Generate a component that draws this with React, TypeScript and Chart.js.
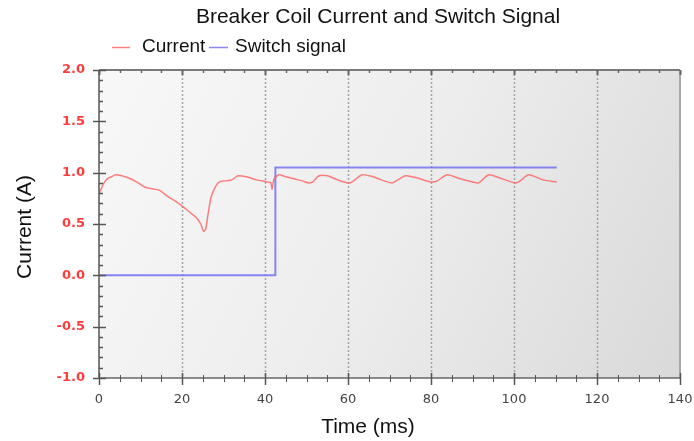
import React, { useEffect, useRef } from "react";
import { Chart, registerables } from "chart.js";

Chart.register(...registerables);

const chartTitle = "Breaker Coil Current and Switch Signal";
const xAxisTitle = "Time (ms)";
const yAxisTitle = "Current (A)";
const seriesNames = ["Current", "Switch signal"];

const currentTime = [
  0, 0.5, 1.2, 2, 3, 4, 5.5, 7, 9, 11, 13, 14.5, 16.5, 18.5, 20.5, 22, 23.5, 24.5, 25.2, 25.7,
  26.3, 27, 28, 29, 30.5, 32, 33.5, 35.5, 38, 40.5, 41.4, 41.7, 42.2, 43.4, 45, 47, 49, 50.5,
  51.5, 53, 55, 57.5, 60, 61, 63.4, 66, 68, 70.6, 72, 73.9, 76.5, 80, 81.5, 83.9, 87, 90, 91.5,
  93.9, 96.5, 100.3, 101.5, 103.5, 107, 110.3,
];
const currentValues = [
  0.8, 0.84, 0.9, 0.94, 0.96, 0.98, 0.97, 0.95, 0.91, 0.86, 0.84, 0.83, 0.77, 0.72, 0.66, 0.61,
  0.56, 0.5, 0.43, 0.45, 0.6, 0.76, 0.86, 0.91, 0.92, 0.93, 0.97, 0.96, 0.93, 0.91, 0.9, 0.84,
  0.94, 0.98, 0.96, 0.94, 0.92, 0.9, 0.91, 0.97, 0.97, 0.93, 0.9, 0.91, 0.98, 0.96, 0.93, 0.9,
  0.93, 0.97, 0.95, 0.91, 0.92, 0.98, 0.94, 0.91, 0.9, 0.98, 0.95, 0.9, 0.92, 0.98, 0.93, 0.91,
];
const switchTime = [0, 42.5, 42.5, 110.3];
const switchValues = [0, 0, 1.05, 1.05];

const xMin = 0;
const xMax = 140;
const xStep = 20;
const xMinorStep = 5;
const yMin = -1;
const yMax = 2;
const yStep = 0.5;
const yMinorStep = 0.1;

const CURRENT_COLOR = "rgba(255,95,95,0.8)";
const SWITCH_COLOR = "rgba(115,115,240,0.85)";
const TEXT_FONT = "'Liberation Sans', Arial, sans-serif";

const decorPlugin = {
  id: "decor",
  beforeDatasetsDraw(chart: any) {
    const { ctx, chartArea: a, scales } = chart;
    const xs = scales.x;
    ctx.save();
    const g = ctx.createLinearGradient(a.left, a.top, a.right, a.bottom);
    g.addColorStop(0, "#f8f8f8");
    g.addColorStop(0.5, "#ededed");
    g.addColorStop(1, "#d9d9d9");
    ctx.fillStyle = g;
    ctx.fillRect(a.left, a.top, a.right - a.left, a.bottom - a.top);
    ctx.strokeStyle = "rgba(150,150,150,0.85)";
    ctx.lineWidth = 1.5;
    ctx.setLineDash([2, 2]);
    for (let v = xMin + xStep; v < xMax; v += xStep) {
      const px = Math.round(xs.getPixelForValue(v)) + 0.5;
      ctx.beginPath();
      ctx.moveTo(px, a.top);
      ctx.lineTo(px, a.bottom);
      ctx.stroke();
    }
    ctx.restore();
  },
  afterDraw(chart: any) {
    const { ctx, chartArea: a, scales } = chart;
    const xs = scales.x;
    const ys = scales.y;
    ctx.save();
    ctx.setLineDash([]);
    ctx.strokeStyle = "#a8a8a8";
    ctx.lineWidth = 2;
    ctx.beginPath();
    ctx.moveTo(a.right, a.top);
    ctx.lineTo(a.right, a.bottom);
    ctx.stroke();
    ctx.strokeStyle = "#7a7a7a";
    ctx.lineWidth = 2;
    ctx.beginPath();
    ctx.moveTo(a.left, a.top);
    ctx.lineTo(a.right, a.top);
    ctx.stroke();
    ctx.strokeStyle = "#666";
    ctx.lineWidth = 1.5;
    ctx.beginPath();
    ctx.moveTo(a.left, a.bottom);
    ctx.lineTo(a.right, a.bottom);
    ctx.stroke();
    ctx.strokeStyle = "#555";
    ctx.beginPath();
    ctx.moveTo(a.left, a.top);
    ctx.lineTo(a.left, a.bottom);
    ctx.stroke();

    const nX = Math.round((xMax - xMin) / xMinorStep);
    for (let i = 0; i <= nX; i++) {
      const v = xMin + i * xMinorStep;
      const major = Math.abs(v % xStep) < 1e-6;
      const px = Math.round(xs.getPixelForValue(v)) + 0.5;
      ctx.strokeStyle = "#555";
      ctx.lineWidth = major ? 1.5 : 1;
      ctx.beginPath();
      ctx.moveTo(px, a.bottom - (major ? 5 : 3));
      ctx.lineTo(px, a.bottom + (major ? 7 : 4));
      ctx.stroke();
      ctx.strokeStyle = "#666";
      ctx.lineWidth = major ? 2 : 1.5;
      ctx.beginPath();
      ctx.moveTo(px, a.top);
      ctx.lineTo(px, a.top + (major ? 5 : 3));
      ctx.stroke();
    }
    const nY = Math.round((yMax - yMin) / yMinorStep);
    for (let i = 0; i <= nY; i++) {
      const v = yMin + i * yMinorStep;
      const r = (v - yMin) / yStep;
      const major = Math.abs(r - Math.round(r)) < 1e-6;
      const py = Math.round(ys.getPixelForValue(v)) + 0.5;
      ctx.strokeStyle = "#555";
      ctx.lineWidth = 1.5;
      ctx.beginPath();
      ctx.moveTo(a.left - (major ? 6 : 0), py);
      ctx.lineTo(a.left + (major ? 7 : 4), py);
      ctx.stroke();
    }

    ctx.fillStyle = "#111";
    ctx.font = `21px ${TEXT_FONT}`;
    ctx.textAlign = "center";
    ctx.textBaseline = "alphabetic";
    ctx.fillText(chartTitle, 378, 23);

    ctx.font = `19px ${TEXT_FONT}`;
    ctx.textAlign = "left";
    ctx.lineWidth = 1.5;
    ctx.strokeStyle = CURRENT_COLOR;
    ctx.beginPath();
    ctx.moveTo(112, 47.5);
    ctx.lineTo(130, 47.5);
    ctx.stroke();
    ctx.fillText(seriesNames[0], 142, 52);
    ctx.strokeStyle = SWITCH_COLOR;
    ctx.beginPath();
    ctx.moveTo(209, 47.5);
    ctx.lineTo(228, 47.5);
    ctx.stroke();
    ctx.fillText(seriesNames[1], 235, 52);

    ctx.font = `21px ${TEXT_FONT}`;
    ctx.textAlign = "center";
    ctx.fillText(xAxisTitle, 368, 433);
    ctx.translate(31, 227);
    ctx.rotate(-Math.PI / 2);
    ctx.fillText(yAxisTitle, 0, 0);
    ctx.restore();
  },
};

export default function App() {
  const ref = useRef<HTMLCanvasElement | null>(null);
  useEffect(() => {
    if (!ref.current) return;
    const chart = new Chart(ref.current, {
      type: "line",
      data: {
        datasets: [
          {
            label: seriesNames[0],
            data: currentTime.map((t, i) => ({ x: t, y: currentValues[i] })),
            borderColor: CURRENT_COLOR,
            borderWidth: 1.5,
            pointRadius: 0,
            tension: 0.25,
            fill: false,
          },
          {
            label: seriesNames[1],
            data: switchTime.map((t, i) => ({ x: t, y: switchValues[i] })),
            borderColor: SWITCH_COLOR,
            borderWidth: 2,
            pointRadius: 0,
            tension: 0,
            fill: false,
          },
        ],
      },
      options: {
        animation: false,
        responsive: true,
        maintainAspectRatio: false,
        layout: { padding: { top: 70, right: 14, left: 0, bottom: 0 } },
        plugins: {
          legend: { display: false },
          title: { display: false },
          tooltip: { enabled: false },
        },
        scales: {
          x: {
            type: "linear",
            min: xMin,
            max: xMax,
            grid: { display: false, drawTicks: false },
            border: { display: false },
            ticks: {
              stepSize: xStep,
              padding: 14,
              color: "#444",
              font: { family: "'DejaVu Sans'", size: 13 },
              maxRotation: 0,
            },
            afterFit: (s: any) => {
              s.height = 63;
              s.paddingLeft = 0;
              s.paddingRight = 0;
            },
          },
          y: {
            min: yMin,
            max: yMax,
            grid: { display: false, drawTicks: false },
            border: { display: false },
            ticks: {
              stepSize: yStep,
              padding: 14,
              color: "#ff3c3c",
              font: { family: "'DejaVu Sans'", size: 13, weight: "bold" },
              callback: (v: any) => Number(v).toFixed(1),
            },
            afterFit: (s: any) => {
              s.width = 99;
              s.paddingTop = 0;
              s.paddingBottom = 0;
            },
          },
        },
      },
      plugins: [decorPlugin],
    });
    return () => chart.destroy();
  }, []);
  return (
    <div style={{ position: "fixed", left: 0, top: 0, width: 694, height: 441 }}>
      <canvas ref={ref} />
    </div>
  );
}
